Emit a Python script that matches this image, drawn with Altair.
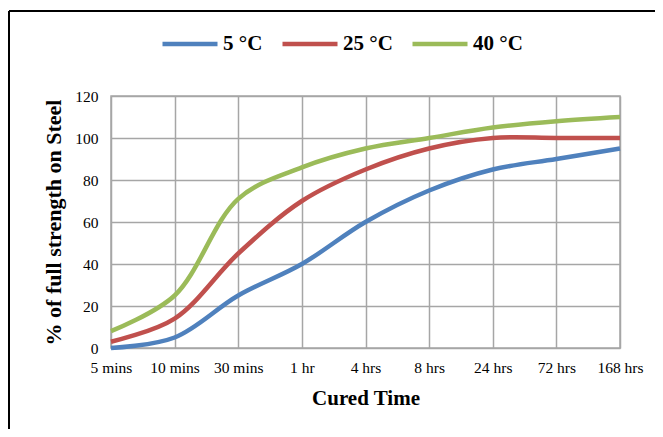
import altair as alt
import pandas as pd

times = ["5 mins", "10 mins", "30 mins", "1 hr", "4 hrs", "8 hrs", "24 hrs", "72 hrs", "168 hrs"]
series_names = ["5 °C", "25 °C", "40 °C"]
s5 = [0, 5, 25, 40, 60, 75, 85, 90, 95]
s25 = [3, 14, 45, 70, 85, 95, 100, 100, 100]
s40 = [8, 25, 71, 86, 95, 100, 105, 108, 110]
colors = ["#4F81BD", "#C0504D", "#9BBB59"]

rows = []
for name, vals in zip(series_names, [s5, s25, s40]):
    for i, (t, v) in enumerate(zip(times, vals)):
        rows.append({"time": t, "value": v, "series": name, "order": i})
df = pd.DataFrame(rows)

FONT = "Liberation Serif"

lines = alt.Chart(df).mark_line(strokeWidth=4.5, interpolate="catmull-rom", strokeCap="butt").encode(
    x=alt.X("time:N", sort=times, scale=alt.Scale(type="point", padding=0),
            axis=alt.Axis(title="Cured Time", labelAngle=0, labelPadding=12,
                          titleFontSize=21, titlePadding=12)),
    y=alt.Y("value:Q", scale=alt.Scale(domain=[0, 120], nice=False),
            axis=alt.Axis(title="% of full strength on Steel", values=[0, 20, 40, 60, 80, 100, 120],
                          labelPadding=13, titleFontSize=22, titlePadding=9)),
    color=alt.Color("series:N", sort=series_names,
                    scale=alt.Scale(domain=series_names, range=colors),
                    legend=alt.Legend(title=None, orient="none", legendX=49, legendY=-82,
                                      direction="horizontal", symbolType="stroke",
                                      symbolSize=3025, symbolStrokeWidth=4.5,
                                      labelFont=FONT, labelFontSize=21, labelFontWeight="bold",
                                      labelColor="black", labelOffset=3, columnPadding=10)),
    detail="series:N",
    order="order:Q",
)

border_top = alt.Chart(alt.Data(values=[{}])).mark_rule(color="black", strokeWidth=2).encode(
    x=alt.value(-102), x2=alt.value(700), y=alt.value(-85)
)
border_left = alt.Chart(alt.Data(values=[{}])).mark_rule(color="black", strokeWidth=2).encode(
    x=alt.value(-102), y=alt.value(-85), y2=alt.value(500)
)

chart = alt.layer(border_top, border_left, lines).properties(
    width=509, height=252,
    autosize=alt.AutoSizeParams(type="none"),
    padding={"left": 103, "top": 88, "right": 35, "bottom": 81},
    background="white",
).configure_view(
    stroke="#A6A6A6", strokeWidth=1.5
).configure_axis(
    labelFont=FONT, labelFontSize=15.5, labelColor="black",
    titleFont=FONT, titleFontWeight="bold", titleColor="black",
    ticks=False, domain=False, grid=True, gridColor="#A6A6A6", gridWidth=1.5,
).configure_legend(
    labelFont=FONT
)

chart.save("out.html", embed_options={"renderer": "svg", "actions": False})
